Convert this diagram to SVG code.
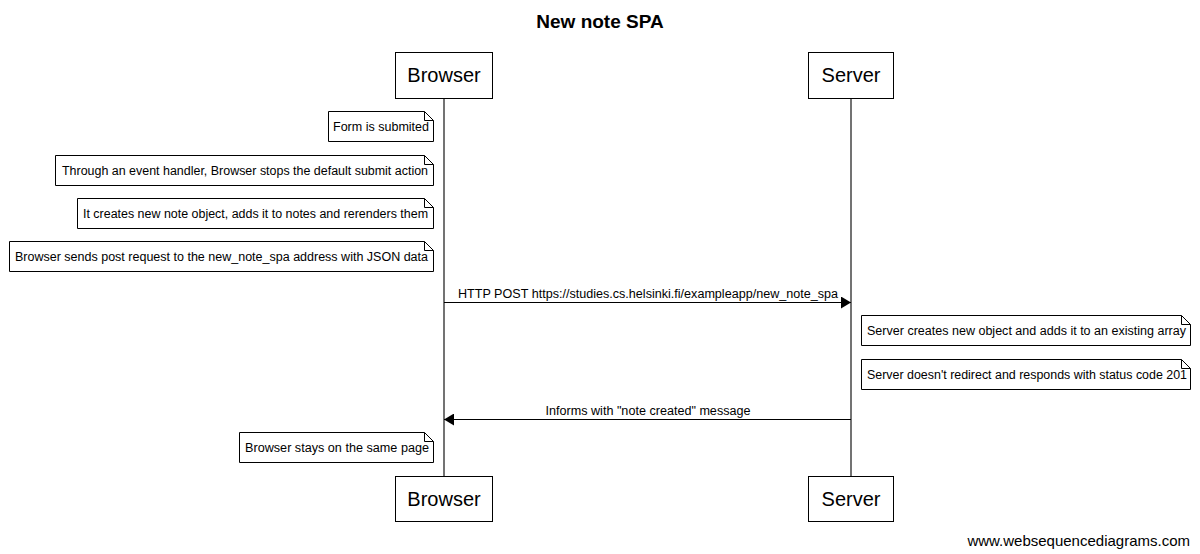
<svg xmlns="http://www.w3.org/2000/svg" width="1200" height="554" viewBox="0 0 1200 554">
<defs>
<style>
.t{font-family:"Liberation Sans",Arial,sans-serif;fill:#000}
.title{font-size:19px;font-weight:bold;text-anchor:middle}
.part{font-size:20px;text-anchor:middle}
.nt{font-size:12.5px}
.msg{font-size:12.5px;text-anchor:middle}
.box{fill:#fff;stroke:#000;stroke-width:1}
.life{stroke:#444;stroke-width:1.5}
.note{fill:#fff;stroke:#000;stroke-width:1}
.fold{fill:none;stroke:#000;stroke-width:1}
.arr{stroke:#000;stroke-width:1;fill:none}
</style>
<marker id="ah" markerWidth="10" markerHeight="12" refX="10" refY="6" orient="auto" markerUnits="userSpaceOnUse">
<path d="M0,0 L10,6 L0,12 Z" fill="#000"/>
</marker>
</defs>
<rect width="1200" height="554" fill="#fff"/>
<text class="t title" x="600" y="28">New note SPA</text>

<g id="lifelines">
<line class="life" x1="444" y1="98" x2="444" y2="476"/>
<line class="life" x1="851" y1="98" x2="851" y2="476"/>
</g>

<g id="browser-top"><rect class="box" x="395.5" y="52.5" width="97" height="46"/><text class="t part" x="444" y="82">Browser</text></g>
<g id="server-top"><rect class="box" x="808.5" y="52.5" width="85" height="46"/><text class="t part" x="851" y="82">Server</text></g>
<g id="browser-bottom"><rect class="box" x="395.5" y="476.5" width="97" height="45"/><text class="t part" x="444" y="506">Browser</text></g>
<g id="server-bottom"><rect class="box" x="808.5" y="476.5" width="85" height="45"/><text class="t part" x="851" y="506">Server</text></g>

<g id="note1"><path class="note" d="M328.5,111.5 H424.5 L433.5,120.5 V141.5 H328.5 Z"/><path class="fold" d="M424.5,111.5 V120.5 H433.5"/><text class="t nt" x="333" y="131" textLength="96" lengthAdjust="spacingAndGlyphs">Form is submited</text></g>
<g id="note2"><path class="note" d="M55.5,155.5 H424.5 L433.5,164.5 V185.5 H55.5 Z"/><path class="fold" d="M424.5,155.5 V164.5 H433.5"/><text class="t nt" x="62" y="175" textLength="366" lengthAdjust="spacingAndGlyphs">Through an event handler, Browser stops the default submit action</text></g>
<g id="note3"><path class="note" d="M77.5,198.5 H424.5 L433.5,207.5 V228.5 H77.5 Z"/><path class="fold" d="M424.5,198.5 V207.5 H433.5"/><text class="t nt" x="83" y="218" textLength="345" lengthAdjust="spacingAndGlyphs">It creates new note object, adds it to notes and rerenders them</text></g>
<g id="note4"><path class="note" d="M9.5,241.5 H424.5 L433.5,250.5 V271.5 H9.5 Z"/><path class="fold" d="M424.5,241.5 V250.5 H433.5"/><text class="t nt" x="15" y="261" textLength="413" lengthAdjust="spacingAndGlyphs">Browser sends post request to the new_note_spa address with JSON data</text></g>
<g id="note5"><path class="note" d="M861.5,315.5 H1181.5 L1190.5,324.5 V345.5 H861.5 Z"/><path class="fold" d="M1181.5,315.5 V324.5 H1190.5"/><text class="t nt" x="867" y="335" textLength="319" lengthAdjust="spacingAndGlyphs">Server creates new object and adds it to an existing array</text></g>
<g id="note6"><path class="note" d="M861.5,359.5 H1181.5 L1190.5,368.5 V389.5 H861.5 Z"/><path class="fold" d="M1181.5,359.5 V368.5 H1190.5"/><text class="t nt" x="867" y="379" textLength="320" lengthAdjust="spacingAndGlyphs">Server doesn't redirect and responds with status code 201</text></g>
<g id="note7"><path class="note" d="M239.5,432.5 H424.5 L433.5,441.5 V462.5 H239.5 Z"/><path class="fold" d="M424.5,432.5 V441.5 H433.5"/><text class="t nt" x="245" y="452" textLength="184" lengthAdjust="spacingAndGlyphs">Browser stays on the same page</text></g>

<g id="connectors">
<line class="arr" x1="444" y1="302.5" x2="851" y2="302.5" marker-end="url(#ah)"/>
<text class="t msg" x="648" y="298" textLength="380" lengthAdjust="spacingAndGlyphs">HTTP POST https://studies.cs.helsinki.fi/exampleapp/new_note_spa</text>
<line class="arr" x1="851" y1="419.5" x2="444" y2="419.5" marker-end="url(#ah)"/>
<text class="t msg" x="648" y="415" textLength="205" lengthAdjust="spacingAndGlyphs">Informs with "note created" message</text>
</g>

<text class="t" x="1190" y="546" font-size="15" text-anchor="end">www.websequencediagrams.com</text>
</svg>
